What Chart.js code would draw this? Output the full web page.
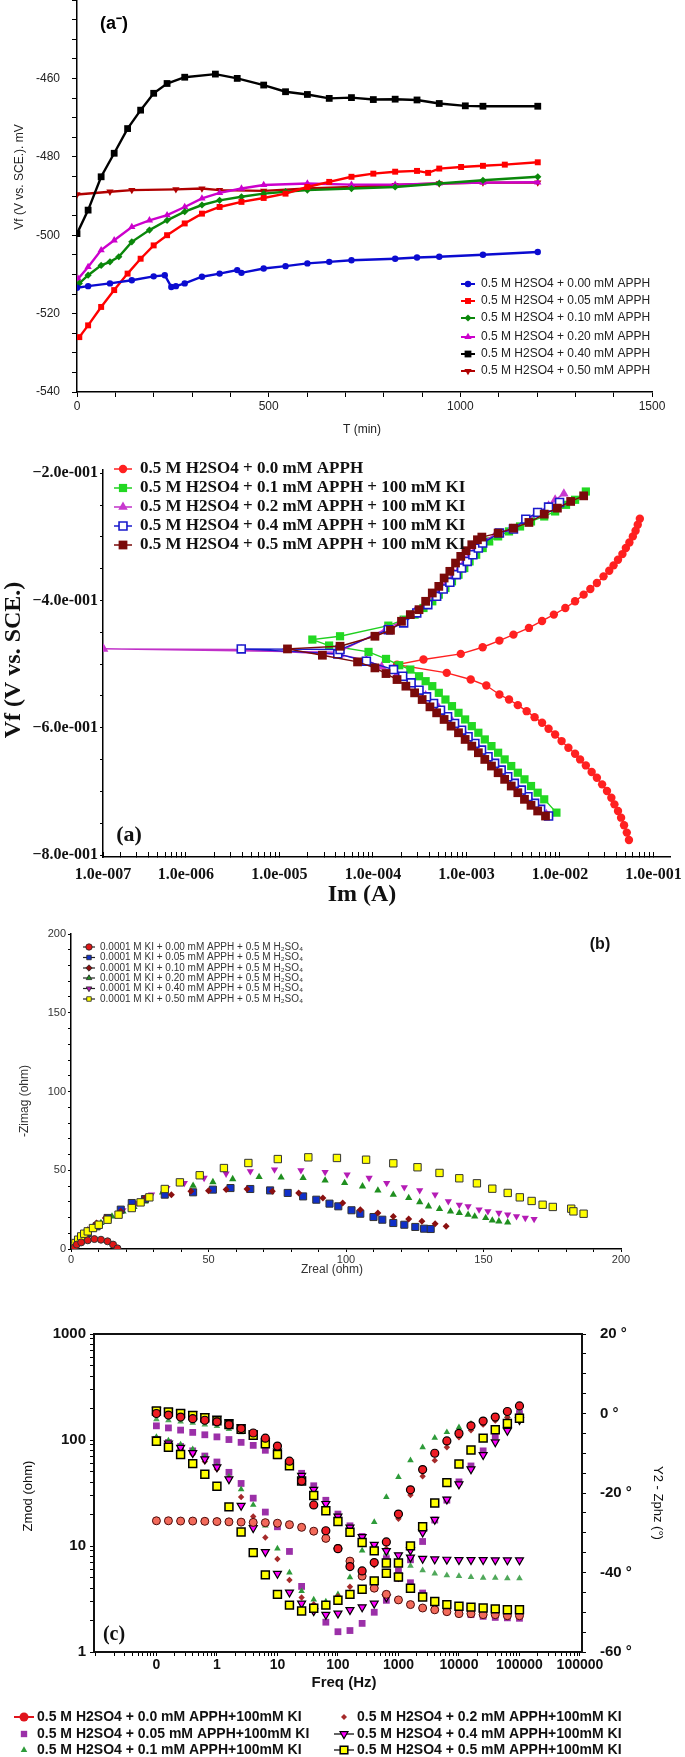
<!DOCTYPE html>
<html><head><meta charset="utf-8"><title>Corrosion figure</title>
<script src="https://cdn.jsdelivr.net/npm/chart.js@4.4.1/dist/chart.umd.min.js"></script>
<style>
html,body{margin:0;padding:0;background:#fff}
body{position:relative;width:685px;height:1757px;overflow:hidden}
canvas{position:absolute;left:0}
</style></head><body>
<canvas id="c1" width="685" height="445" style="top:0px"></canvas>
<canvas id="c2" width="685" height="475" style="top:440px"></canvas>
<canvas id="c3" width="685" height="385" style="top:905px"></canvas>
<canvas id="c4" width="685" height="457" style="top:1300px"></canvas>
<script>
// ================= DATA =================
// ---- Panel (a-) : open circuit potential vs time ----
const p1_labels = ['0.5 M H2SO4 + 0.00 mM APPH','0.5 M H2SO4 + 0.05 mM APPH','0.5 M H2SO4 + 0.10 mM APPH','0.5 M H2SO4 + 0.20 mM APPH','0.5 M H2SO4 + 0.40 mM APPH','0.5 M H2SO4 + 0.50 mM APPH'];
const p1_T_000 = [0,29,86,143,200,229,246,258,281,326,372,418,429,487,544,601,658,716,830,887,945,1059,1202];
const p1_V_000 = [-513.4,-513.0,-512.3,-511.5,-510.5,-510.2,-513.2,-513.0,-512.3,-510.6,-509.8,-508.9,-509.6,-508.5,-507.9,-507.2,-506.8,-506.4,-506.0,-505.7,-505.5,-505.0,-504.3];
const p1_T_005 = [6,29,63,97,132,166,200,235,281,326,372,429,487,544,601,658,716,773,830,887,916,945,1002,1059,1116,1202];
const p1_V_005 = [-526.0,-523.0,-518.3,-514.0,-509.8,-506.0,-502.6,-500.0,-497.0,-494.5,-492.8,-491.5,-490.5,-489.4,-487.7,-486.4,-485.1,-484.3,-483.8,-483.6,-484.1,-483.0,-482.6,-482.3,-482.0,-481.4];
const p1_T_010 = [6,29,63,86,109,143,189,235,281,326,372,429,487,544,601,716,830,945,1059,1202];
const p1_V_010 = [-512.3,-510.2,-507.7,-506.8,-505.5,-501.7,-498.7,-496.2,-494.0,-492.3,-491.1,-490.2,-489.4,-488.9,-488.5,-488.1,-487.7,-486.8,-486.0,-485.1];
const p1_T_020 = [3,29,63,97,143,189,235,281,326,372,429,487,601,716,830,945,1059,1202];
const p1_V_020 = [-511.1,-508.1,-503.8,-501.3,-497.9,-496.2,-494.9,-492.8,-490.6,-489.2,-488.1,-487.2,-486.8,-487.1,-487.1,-486.8,-486.6,-486.5];
const p1_T_040 = [0,29,63,97,132,166,200,235,281,361,418,487,544,601,658,716,773,830,887,945,1013,1059,1202];
const p1_V_040 = [-499.6,-493.6,-485.1,-479.1,-472.8,-468.1,-463.8,-461.3,-459.7,-458.9,-460.0,-461.7,-463.4,-464.1,-465.1,-464.9,-465.4,-465.3,-465.5,-466.4,-467.0,-467.1,-467.1];
const p1_T_050 = [0,86,143,258,326,372,487,601,716,830,945,1059,1202];
const p1_V_050 = [-489.6,-488.9,-488.5,-488.3,-488.1,-488.5,-488.7,-488.1,-487.7,-487.2,-486.8,-486.6,-486.6];
const p1_xTickLabels = [0,500,1000,1500];
const p1_yTickLabels = [-540,-520,-500,-480,-460];

// ---- Panel (a) : Tafel polarisation ----
const p2_labels = ['0.5 M H2SO4 + 0.0 mM APPH','0.5 M H2SO4 + 0.1 mM APPH + 100 mM KI','0.5 M H2SO4 + 0.2 mM APPH + 100 mM KI','0.5 M H2SO4 + 0.4 mM APPH + 100 mM KI','0.5 M H2SO4 + 0.5 mM APPH + 100 mM KI'];
const p2_I_00 = [7.14e-2,6.78e-2,6.43e-2,6.01e-2,5.52e-2,5.06e-2,4.65e-2,4.17e-2,3.74e-2,3.36e-2,2.92e-2,2.48e-2,2.11e-2,1.79e-2,1.45e-2,1.14e-2,8.59e-3,6.43e-3,4.65e-3,3.18e-3,2.25e-3,1.49e-3,8.69e-4,3.47e-4,1.81e-4,6.15e-4,1.11e-3,1.63e-3,2.25e-3,2.85e-3,3.54e-3,4.40e-3,5.35e-3,6.43e-3,7.55e-3,8.87e-3,1.04e-2,1.23e-2,1.45e-2,1.64e-2,1.89e-2,2.18e-2,2.48e-2,2.82e-2,3.18e-2,3.54e-2,3.82e-2,4.17e-2,4.50e-2,4.84e-2,5.18e-2,5.46e-2];
const p2_V_00 = [-0.2716,-0.2810,-0.2905,-0.2993,-0.3088,-0.3176,-0.3271,-0.3359,-0.3448,-0.3532,-0.3621,-0.3725,-0.3820,-0.3908,-0.4013,-0.4118,-0.4222,-0.4322,-0.4431,-0.4536,-0.4630,-0.4735,-0.4839,-0.4928,-0.5007,-0.5137,-0.5242,-0.5336,-0.5477,-0.5556,-0.5644,-0.5739,-0.5833,-0.5922,-0.6016,-0.6105,-0.6209,-0.6314,-0.6408,-0.6497,-0.6591,-0.6695,-0.6784,-0.6889,-0.6993,-0.7098,-0.7203,-0.7307,-0.7412,-0.7532,-0.7647,-0.7762];
const p2_I_01 = [9.16e-3,6.78e-3,5.77e-3,4.90e-3,4.17e-3,3.54e-3,3.01e-3,2.56e-3,2.18e-3,1.85e-3,1.57e-3,1.34e-3,1.14e-3,9.68e-4,8.22e-4,7.00e-4,5.96e-4,5.06e-4,4.31e-4,3.66e-4,3.11e-4,2.51e-4,1.91e-4,1.38e-4,8.97e-5,3.40e-5,2.25e-5,4.45e-5,1.46e-4,2.13e-4,2.79e-4,3.47e-4,4.31e-4,5.06e-4,5.96e-4,7.00e-4,8.22e-4,9.48e-4,1.08e-3,1.27e-3,1.49e-3,1.75e-3,2.18e-3,2.85e-3,3.74e-3,4.90e-3,6.78e-3,8.87e-3,1.16e-2,1.45e-2,1.89e-2];
const p2_V_01 = [-0.7333,-0.7124,-0.7020,-0.6915,-0.6810,-0.6706,-0.6601,-0.6497,-0.6392,-0.6288,-0.6183,-0.6078,-0.5974,-0.5869,-0.5765,-0.5660,-0.5556,-0.5451,-0.5346,-0.5268,-0.5190,-0.5085,-0.5017,-0.4918,-0.4808,-0.4708,-0.4614,-0.4562,-0.4395,-0.4301,-0.4222,-0.4118,-0.4013,-0.3908,-0.3804,-0.3699,-0.3595,-0.3490,-0.3386,-0.3281,-0.3176,-0.3072,-0.2993,-0.2915,-0.2837,-0.2758,-0.2680,-0.2601,-0.2497,-0.2418,-0.2288];
const p2_I_02 = [7.14e-3,4.90e-3,3.54e-3,2.56e-3,1.85e-3,1.34e-3,9.68e-4,7.00e-4,5.06e-4,3.66e-4,2.65e-4,1.81e-4,1.24e-4,8.51e-5,4.45e-5,3.91e-6,1.32e-7,4.21e-5,1.38e-4,2.02e-4,2.79e-4,3.66e-4,4.54e-4,5.35e-4,6.28e-4,7.40e-4,8.51e-4,9.68e-4,1.11e-3,1.27e-3,1.45e-3,2.07e-3,3.01e-3,4.40e-3,5.77e-3,7.55e-3,8.87e-3,1.10e-2];
const p2_V_02 = [-0.7360,-0.7150,-0.6941,-0.6732,-0.6523,-0.6314,-0.6105,-0.5895,-0.5686,-0.5493,-0.5320,-0.5163,-0.5043,-0.4939,-0.4850,-0.4771,-0.4761,-0.4813,-0.4447,-0.4327,-0.4180,-0.4039,-0.3908,-0.3804,-0.3699,-0.3584,-0.3480,-0.3375,-0.3271,-0.3176,-0.3088,-0.2952,-0.2878,-0.2742,-0.2627,-0.2512,-0.2418,-0.2324];
const p2_I_04 = [7.55e-3,6.21e-3,5.35e-3,4.54e-3,3.86e-3,3.25e-3,2.76e-3,2.35e-3,2.00e-3,1.70e-3,1.45e-3,1.23e-3,1.04e-3,8.87e-4,7.46e-4,6.28e-4,5.28e-4,4.45e-4,3.74e-4,3.11e-4,2.56e-4,2.08e-4,1.66e-4,8.51e-5,4.21e-5,3.91e-6,4.45e-5,1.46e-4,2.13e-4,2.94e-4,3.86e-4,4.80e-4,5.64e-4,6.64e-4,7.80e-4,8.87e-4,1.02e-3,1.17e-3,1.34e-3,1.49e-3,2.25e-3,3.18e-3,4.31e-3,5.77e-3,7.55e-3,9.89e-3];
const p2_V_04 = [-0.7386,-0.7281,-0.7187,-0.7082,-0.6978,-0.6873,-0.6769,-0.6664,-0.6559,-0.6455,-0.6350,-0.6246,-0.6141,-0.6037,-0.5932,-0.5827,-0.5723,-0.5618,-0.5514,-0.5409,-0.5294,-0.5190,-0.5085,-0.4954,-0.4839,-0.4761,-0.4771,-0.4458,-0.4353,-0.4196,-0.4065,-0.3935,-0.3820,-0.3715,-0.3595,-0.3490,-0.3386,-0.3281,-0.3176,-0.3098,-0.2941,-0.2878,-0.2722,-0.2617,-0.2533,-0.2460];
const p2_I_05 = [7.00e-3,5.77e-3,4.90e-3,4.17e-3,3.54e-3,3.01e-3,2.56e-3,2.18e-3,1.85e-3,1.57e-3,1.34e-3,1.14e-3,9.68e-4,8.22e-4,6.85e-4,5.77e-4,4.80e-4,4.07e-4,3.36e-4,2.79e-4,2.25e-4,1.81e-4,1.38e-4,1.05e-4,6.85e-5,2.88e-5,1.22e-5,4.45e-5,1.05e-4,1.54e-4,2.02e-4,2.51e-4,3.11e-4,3.66e-4,4.31e-4,5.06e-4,5.77e-4,6.64e-4,7.64e-4,8.69e-4,9.89e-4,1.14e-3,1.31e-3,1.46e-3,2.18e-3,3.18e-3,4.65e-3,6.78e-3,9.38e-3,1.30e-2,1.79e-2];
const p2_V_05 = [-0.7386,-0.7307,-0.7218,-0.7124,-0.7020,-0.6915,-0.6810,-0.6706,-0.6601,-0.6497,-0.6392,-0.6288,-0.6183,-0.6078,-0.5974,-0.5869,-0.5765,-0.5671,-0.5556,-0.5451,-0.5346,-0.5242,-0.5148,-0.5059,-0.4965,-0.4860,-0.4761,-0.4719,-0.4562,-0.4468,-0.4327,-0.4222,-0.4144,-0.4013,-0.3882,-0.3778,-0.3647,-0.3542,-0.3412,-0.3307,-0.3218,-0.3124,-0.3046,-0.3004,-0.2941,-0.2863,-0.2774,-0.2643,-0.2549,-0.2444,-0.2356];
const p2_xTickLabels = ['1.0e-007','1.0e-006','1.0e-005','1.0e-004','1.0e-003','1.0e-002','1.0e-001'];
const p2_yTickLabels = ['\u22128.0e-001','\u22126.0e-001','\u22124.0e-001','\u22122.0e-001'];

// ---- Panel (b) : Nyquist ----
const p3_labels = ['0.0001 M KI + 0.00 mM APPH + 0.5 M H\u2082SO\u2084','0.0001 M KI + 0.05 mM APPH + 0.5 M H\u2082SO\u2084','0.0001 M KI + 0.10 mM APPH + 0.5 M H\u2082SO\u2084','0.0001 M KI + 0.20 mM APPH + 0.5 M H\u2082SO\u2084','0.0001 M KI + 0.40 mM APPH + 0.5 M H\u2082SO\u2084','0.0001 M KI + 0.50 mM APPH + 0.5 M H\u2082SO\u2084'];
const p3_re_000 = [1.3,2.1,3.7,6.1,8.5,10.9,13.3,15.3,16.9];
const p3_im_000 = [1.0,2.8,4.2,5.5,6.3,5.9,4.9,2.8,0.4];
const p3_re_005 = [1.3,3.7,6.1,9.3,13.3,18.1,22.1,26.9,34.1,44.4,51.6,58.0,65.2,72.4,78.8,84.4,89.2,94.0,97.2,102.0,105.2,110.0,113.2,117.2,121.2,125.2,128.4,130.8];
const p3_im_005 = [1.7,5.9,10.2,14.4,19.7,25.0,29.2,31.7,34.5,36.0,37.7,38.7,38.1,37.2,35.6,33.4,31.3,28.8,27.1,24.6,22.4,20.3,18.6,16.5,15.4,14.0,12.9,12.7];
const p3_re_010 = [1.3,3.7,6.1,9.3,12.5,18.1,26.9,36.5,43.6,50.0,56.4,64.0,73.2,82.8,91.6,98.8,105.2,111.6,117.2,122.8,127.6,132.4,136.4];
const p3_im_010 = [2.1,8.0,12.3,16.5,19.7,23.9,32.4,34.5,36.6,37.0,37.7,38.1,36.6,35.6,32.4,29.2,25.0,22.9,20.7,19.0,17.6,16.1,14.4];
const p3_re_020 = [2.1,4.5,7.7,10.9,14.9,18.9,22.9,26.9,33.3,44.4,51.6,58.8,68.4,76.4,84.4,92.4,99.5,106.0,111.6,117.2,122.8,126.8,130.0,134.0,138.0,141.2,144.4,146.8,150.8,153.2,155.6,158.8];
const p3_im_020 = [3.8,8.0,12.3,16.5,20.7,23.9,26.7,30.3,36.0,40.2,42.5,44.4,45.7,45.5,45.1,43.6,41.9,39.8,37.2,34.5,32.4,29.8,27.1,25.4,23.9,22.9,21.8,20.7,19.7,18.2,17.6,16.9];
const p3_re_040 = [2.9,6.1,10.1,14.1,18.9,23.7,29.3,34.9,41.2,48.4,56.4,65.2,74.0,83.6,92.4,100.4,108.4,114.8,121.2,126.8,132.4,137.2,141.2,144.4,148.4,151.6,155.6,158.8,162.0,165.2,168.4];
const p3_im_040 = [4.9,9.7,14.8,19.7,24.6,29.2,34.5,38.7,41.9,45.1,47.8,49.3,50.4,49.9,48.9,47.2,45.1,41.9,39.2,37.2,34.5,30.3,28.1,27.1,25.0,23.9,22.9,21.8,20.7,19.7,19.0];
const p3_re_050 = [1.0,1.6,2.6,3.7,4.8,6.1,8.0,10.1,13.3,17.3,22.1,25.3,28.5,34.1,39.6,46.8,55.6,64.5,75.2,86.3,96.7,107.3,117.2,126.0,134.0,141.2,147.6,153.2,158.8,163.2,167.5,171.5,175.2,181.9,182.7,186.4];
const p3_im_050 = [1.7,3.8,5.9,8.0,9.7,11.2,13.3,15.4,18.6,21.8,26.0,29.6,32.8,38.1,42.3,46.8,51.4,54.6,57.1,58.2,57.8,56.7,54.4,51.9,48.3,44.9,41.7,38.3,35.6,32.8,30.5,28.1,26.7,25.6,23.9,22.4];
const p3_tickLabels = [0,50,100,150,200];

// ---- Panel (c) : Bode ----
const p4_labels = ['0.5 M H2SO4 + 0.0 mM APPH+100mM KI','0.5 M H2SO4 + 0.05 mM APPH+100mM KI','0.5 M H2SO4 + 0.1 mM APPH+100mM KI','0.5 M H2SO4 + 0.2 mM APPH+100mM KI','0.5 M H2SO4 + 0.4 mM APPH+100mM KI','0.5 M H2SO4 + 0.5 mM APPH+100mM KI'];
const p4_freq = [0.1,0.158,0.251,0.398,0.631,1,1.58,2.51,3.98,6.31,10,15.8,25.1,39.8,63.1,100,158,251,398,631,1000,1580,2510,3980,6310,10000,15800,25100,39800,63100,100000];
const p4_zmod_00 = [17.3,17.3,17.2,17.2,17.1,17.0,16.9,16.8,16.7,16.6,16.4,15.9,15.0,13.8,11.8,9.5,7.2,5.2,4.0,3.5,3.1,2.8,2.6,2.5,2.4,2.3,2.3,2.25,2.25,2.2,2.2];
const p4_zmod_005 = [136,130,124,118,112,107,101,95,89,80,71,59,48.5,37,27,20,15.5,12.3,9.8,7.6,5.8,4.5,3.6,3.0,2.6,2.4,2.25,2.17,2.12,2.1,2.08];
const p4_zmod_01 = [157,153,149,145,140,135,127,118,106,92,78,60,45,33,24,18.5,14.5,11.8,10.0,8.6,7.3,6.5,5.9,5.5,5.3,5.2,5.1,5.0,5.0,4.95,4.95];
const p4_zmod_04 = [190,186,181,175,168,160,148,133,116,97,78,61,46,34,25,19,15,12.2,10.3,9.0,8.2,7.8,7.6,7.5,7.45,7.4,7.4,7.4,7.35,7.35,7.35];
const p4_zmod_05 = [188,184,178,170,162,152,140,126,111,92,73,57,41,30,21.5,17.0,13.5,10.8,9.0,6.9,5.1,4.0,3.3,3.0,2.8,2.7,2.65,2.6,2.55,2.5,2.5];
const p4_phase_00 = [0.0,-0.4,-0.9,-1.3,-1.7,-2.1,-2.8,-3.8,-4.9,-6.2,-8.2,-12.0,-17.0,-23.0,-29.5,-34.0,-38.5,-39.6,-37.5,-32.3,-25.3,-19.2,-14.1,-10.0,-6.9,-5.0,-3.1,-1.9,-0.9,0.5,1.9];
const p4_phase_005 = [-6.5,-7.3,-8.3,-9.4,-10.7,-12.2,-14.8,-17.6,-21.3,-24.8,-28.5,-34.7,-43.5,-49.0,-52.5,-54.9,-54.6,-52.8,-50.0,-47.0,-41.5,-36.8,-32.2,-26.8,-21.8,-17.2,-13.2,-9.4,-5.6,-2.6,0.0];
const p4_phase_01 = [-5.9,-6.8,-7.8,-9.0,-11.0,-13.3,-15.9,-19.1,-23.0,-28.2,-34.0,-40.0,-44.7,-46.8,-47.3,-45.5,-41.2,-34.5,-27.3,-21.0,-16.0,-11.8,-8.5,-6.1,-4.7,-3.5,-2.6,-1.8,-1.2,-0.6,-0.2];
const p4_phase_02 = [-6.9,-7.8,-8.9,-10.3,-12.1,-14.0,-16.4,-21.0,-25.9,-31.2,-36.6,-41.9,-46.3,-48.0,-48.0,-46.0,-43.6,-40.6,-38.2,-34.0,-26.5,-20.5,-15.8,-11.8,-8.5,-6.0,-4.2,-2.8,-1.8,-1.0,-0.5];
const p4_phase_04 = [-6.5,-7.5,-8.6,-9.9,-11.5,-13.5,-16.5,-23.2,-28.8,-34.8,-40.3,-45.0,-47.8,-49.7,-50.6,-50.3,-49.4,-48.7,-47.8,-46.2,-41.0,-34.4,-29.9,-26.7,-21.6,-17.8,-14.0,-10.4,-7.2,-4.3,-1.6];
const p4_phase_05 = [-7.0,-8.5,-10.3,-12.6,-15.3,-18.3,-23.5,-29.8,-35.0,-40.6,-45.5,-48.2,-49.7,-49.0,-48.2,-47.0,-45.5,-44.2,-42.1,-40.2,-37.6,-33.3,-28.5,-22.5,-17.4,-12.7,-9.2,-6.2,-4.1,-2.5,-1.2];
const p4_xTickLabels = {'-1':'0','0':'1','1':'10','2':'100','3':'1000','4':'10000','5':'100000','6':'100000'};
const p4_yTickLabels = [1,10,100,1000];
const p4_y2TickLabels = [-60,-40,-20,0,20];

// ================= HELPERS =================
const FS = "'Liberation Sans', Arial, Helvetica, sans-serif";
const FR = "'Liberation Serif', 'Times New Roman', serif";
const xy = (xs, ys) => xs.map((x, i) => ({x: x, y: ys[i]}));
const setTicks = vals => s => { s.ticks = vals.map(v => ({value: v})); };
function range(a, b, step) { const r = []; const n = Math.round((b - a) / step); for (let i = 0; i <= n; i++) r.push(Math.round((a + i * step) * 1e6) / 1e6); return r; }
function logTicks(lo, hi) { const r = []; for (let k = -9; k <= 7; k++) for (let m = 1; m <= 9; m++) { const v = m * Math.pow(10, k); if (v >= lo * 0.9999 && v <= hi * 1.0001) r.push(v); } return r; }
function isDecade(v) { const l = Math.log10(v); return Math.abs(l - Math.round(l)) < 1e-6; }

function axis(o) {
  return {
    type: o.type || 'linear', position: o.position, min: o.min, max: o.max,
    afterFit: s => { o.fit(s); s.paddingTop = 0; s.paddingBottom = 0; s.paddingLeft = 0; s.paddingRight = 0; },
    afterBuildTicks: setTicks(o.ticks),
    border: {display: true, color: '#000', width: o.bw || 1.5},
    grid: {display: true, drawOnChartArea: false, drawTicks: true, tickLength: o.tl || 4, color: '#000', lineWidth: 1},
    ticks: {autoSkip: false, maxRotation: 0, minRotation: 0, padding: o.pad, color: o.color || '#222', font: o.font, callback: o.cb}
  };
}

function drawMarker(ctx, style, x, y, r, rot, stroke) {
  ctx.beginPath();
  if (style === 'circle') ctx.arc(x, y, r, 0, Math.PI * 2);
  else if (style === 'rect') { const s = r * Math.SQRT1_2; ctx.rect(x - s, y - s, 2 * s, 2 * s); }
  else if (style === 'rectRot') { ctx.moveTo(x, y - r); ctx.lineTo(x + r, y); ctx.lineTo(x, y + r); ctx.lineTo(x - r, y); ctx.closePath(); }
  else if (style === 'triangle') {
    let a = (rot || 0) * Math.PI / 180;
    for (let i = 0; i < 3; i++) { const px = x + Math.sin(a) * r, py = y - Math.cos(a) * r; if (i) ctx.lineTo(px, py); else ctx.moveTo(px, py); a += 2 * Math.PI / 3; }
    ctx.closePath();
  }
  ctx.fill();
  if (stroke) ctx.stroke();
}

function legendPlugin(cfg) {
  return { id: 'customLegend', afterDraw(chart) {
    const ctx = chart.ctx; ctx.save();
    ctx.font = cfg.font; ctx.textBaseline = 'middle'; ctx.textAlign = 'left';
    cfg.items.forEach(it => {
      const ds = chart.data.datasets[it.ds];
      if (it.line) { ctx.strokeStyle = it.lineColor || ds.borderColor; ctx.lineWidth = it.lineWidth || 1.5; ctx.beginPath(); ctx.moveTo(it.line[0], it.y); ctx.lineTo(it.line[1], it.y); ctx.stroke(); }
      ctx.fillStyle = it.fill || ds.pointBackgroundColor;
      ctx.strokeStyle = it.stroke || ds.pointBorderColor;
      const bw = it.bw != null ? it.bw : (ds.pointBorderWidth || 0);
      ctx.lineWidth = bw;
      drawMarker(ctx, it.style || ds.pointStyle, it.x, it.y, it.r || ds.pointRadius, it.rot != null ? it.rot : (ds.pointRotation || 0), bw > 0);
      ctx.fillStyle = cfg.color;
      ctx.fillText(it.text || ds.label, it.tx, it.y + (cfg.dy || 0));
    });
    ctx.restore();
  }};
}

function textPlugin(items) {
  return { id: 'extraText', afterDraw(chart) {
    const ctx = chart.ctx;
    items.forEach(t => {
      ctx.save(); ctx.font = t.font; ctx.fillStyle = t.color || '#000';
      ctx.textAlign = t.align || 'center'; ctx.textBaseline = 'middle';
      ctx.translate(t.x, t.y); if (t.rot) ctx.rotate(t.rot);
      ctx.fillText(t.text, 0, 0); ctx.restore();
    });
  }};
}

const baseOpts = (pad) => ({
  responsive: false, animation: false, devicePixelRatio: 1,
  layout: {padding: pad, autoPadding: false},
  plugins: {legend: {display: false}, tooltip: {enabled: false}}
});

// ================= PANEL 1 =================
const p1_T = [p1_T_000, p1_T_005, p1_T_010, p1_T_020, p1_T_040, p1_T_050];
const p1_V = [p1_V_000, p1_V_005, p1_V_010, p1_V_020, p1_V_040, p1_V_050];
const p1_colors = ['#0B0BD0', '#FF0000', '#0A870A', '#CC00CC', '#000000', '#B00000'];
const p1_marks = [['circle', 3.2, 0], ['rect', 4.2, 0], ['rectRot', 3.6, 0], ['triangle', 4.2, 0], ['rect', 4.8, 0], ['triangle', 4.2, 180]];
const p1_ds = p1_labels.map((lab, i) => ({
  label: lab, data: xy(p1_T[i], p1_V[i]), showLine: true,
  borderColor: p1_colors[i], backgroundColor: p1_colors[i], borderWidth: 2.4,
  pointStyle: p1_marks[i][0], pointRadius: p1_marks[i][1], pointRotation: p1_marks[i][2],
  pointBackgroundColor: p1_colors[i], pointBorderColor: p1_colors[i], pointBorderWidth: 0
}));
const o1 = baseOpts({left: 0, right: 33, top: 0, bottom: 0});
o1.scales = {
  x: axis({min: 0, max: 1500, fit: s => { s.height = 53; }, ticks: range(0, 1500, 100), tl: 5, pad: 2,
    font: {size: 12, family: FS}, color: '#222', cb: v => (p1_xTickLabels.includes(Math.round(v)) ? String(Math.round(v)) : '')}),
  y: axis({min: -540, max: -440, fit: s => { s.width = 77; }, ticks: range(-540, -440, 5), tl: 5, pad: 12,
    font: {size: 12, family: FS}, color: '#222', cb: v => (p1_yTickLabels.includes(Math.round(v)) ? String(Math.round(v)) : '')})
};
const p1_rows = [284, 301, 318, 337, 354, 371];
new Chart(document.getElementById('c1'), {
  type: 'scatter', data: {datasets: p1_ds}, options: o1,
  plugins: [
    legendPlugin({font: `12px ${FS}`, color: '#222', items: p1_rows.map((y, i) => ({ds: i, x: 468, y: y, tx: 481, line: [461, 475], lineWidth: 2}))}),
    textPlugin([
      {text: 'Vf (V vs. SCE.). mV', x: 20, y: 177, rot: -Math.PI / 2, font: `12px ${FS}`, color: '#222'},
      {text: 'T (min)', x: 362, y: 430, font: `12px ${FS}`, color: '#222'},
      {text: '(a\u207B)', x: 114, y: 24, font: `bold 18px ${FS}`, color: '#000'}
    ])
  ]
});

// ================= PANEL 2 =================
const P2_XMIN = 1.3e-7, P2_XMAX = 0.15;
const p2_I = [p2_I_00, p2_I_01, p2_I_02, p2_I_04, p2_I_05];
const p2_V = [p2_V_00, p2_V_01, p2_V_02, p2_V_04, p2_V_05];
const p2_line = ['#FF2020', '#20D020', '#C030C8', '#1A1ACC', '#7A0A0A'];
const p2_fill = ['#FF2020', '#22D822', '#C838CF', '#FFFFFF', '#7A0A0A'];
const p2_marks = [['circle', 4.2, 0, 0], ['rect', 5.8, 0, 0], ['triangle', 5.5, 0, 0], ['rect', 5.6, 0, 1.6], ['rect', 6.2, 0, 0]];
const p2_ds = p2_labels.map((lab, i) => ({
  label: lab, data: xy(p2_I[i], p2_V[i]), showLine: true,
  borderColor: p2_line[i], backgroundColor: p2_fill[i], borderWidth: 1.4,
  pointStyle: p2_marks[i][0], pointRadius: p2_marks[i][1], pointRotation: p2_marks[i][2],
  pointBackgroundColor: p2_fill[i], pointBorderColor: p2_line[i], pointBorderWidth: p2_marks[i][3]
}));
const p2_order = [4, 3, 2, 1, 0];
p2_ds.forEach((d, i) => { d.order = p2_order[i]; });
const o2 = baseOpts({left: 0, right: 15, top: 30, bottom: 0});
o2.scales = {
  x: axis({type: 'logarithmic', min: P2_XMIN, max: P2_XMAX, fit: s => { s.height = 58; },
    ticks: [P2_XMIN].concat(logTicks(P2_XMIN * 1.01, P2_XMAX)), tl: -5, pad: 13,
    font: {size: 16, weight: 'bold', family: FR}, color: '#111',
    cb: v => { if (Math.abs(v - P2_XMIN) < 1e-12) return p2_xTickLabels[0]; if (!isDecade(v)) return ''; const k = Math.round(Math.log10(v)); return p2_xTickLabels[k + 7] || ''; }}),
  y: axis({min: -0.803, max: -0.195, fit: s => { s.width = 103; }, ticks: range(-0.8, -0.2, 0.05), tl: 3, pad: 2,
    font: {size: 16, weight: 'bold', family: FR}, color: '#111',
    cb: v => { const k = Math.round(v * 20); return (k % 4 === 0) ? p2_yTickLabels[(k + 16) / 4] : ''; }})
};
const p2_rows = [29, 48, 67, 86, 105];
new Chart(document.getElementById('c2'), {
  type: 'scatter', data: {datasets: p2_ds}, options: o2,
  plugins: [
    legendPlugin({font: `bold 17px ${FR}`, color: '#111', items: p2_rows.map((y, i) => ({ds: i, x: 123, y: y, tx: 140, line: [114, 132], lineWidth: 1.5}))}),
    textPlugin([
      {text: 'Vf (V vs. SCE.)', x: 14, y: 220, rot: -Math.PI / 2, font: `bold 24px ${FR}`, color: '#111'},
      {text: 'Im (A)', x: 362, y: 455, font: `bold 24px ${FR}`, color: '#111'},
      {text: '(a)', x: 129, y: 395, font: `bold 22px ${FR}`, color: '#111'}
    ])
  ]
});

// ================= PANEL 3 =================
const p3_re = [p3_re_000, p3_re_005, p3_re_010, p3_re_020, p3_re_040, p3_re_050];
const p3_im = [p3_im_000, p3_im_005, p3_im_010, p3_im_020, p3_im_040, p3_im_050];
const p3_fill = ['#E01515', '#1030C8', '#8A1010', '#1F8F1F', '#B51BB5', '#FFFF00'];
const p3_marks = [['circle', 3.5, 0], ['rect', 5, 0], ['rectRot', 3.5, 0], ['triangle', 4.2, 0], ['triangle', 4.2, 180], ['rect', 5.2, 0]];
const p3_ds = p3_labels.map((lab, i) => ({
  label: lab, data: xy(p3_re[i], p3_im[i]), showLine: false,
  borderColor: '#222', backgroundColor: p3_fill[i],
  pointStyle: p3_marks[i][0], pointRadius: p3_marks[i][1], pointRotation: p3_marks[i][2],
  pointBackgroundColor: p3_fill[i], pointBorderColor: (i === 2 || i === 3 || i === 4) ? p3_fill[i] : '#333', pointBorderWidth: (i === 2 || i === 3 || i === 4) ? 0 : 1
}));
p3_ds[0].order = 0; p3_ds[1].order = 3; p3_ds[2].order = 2; p3_ds[3].order = 4; p3_ds[4].order = 5; p3_ds[5].order = 1;
const o3 = baseOpts({left: 0, right: 64, top: 29, bottom: 0});
o3.scales = {
  x: axis({min: 0, max: 200, fit: s => { s.height = 41; }, ticks: range(0, 200, 10), tl: 3, pad: 1,
    font: {size: 11, family: FS}, color: '#333', cb: v => (p3_tickLabels.includes(Math.round(v)) ? String(Math.round(v)) : '')}),
  y: axis({min: 0, max: 200, fit: s => { s.width = 71; }, ticks: range(0, 200, 10), tl: 3, pad: 2,
    font: {size: 11, family: FS}, color: '#333', cb: v => (p3_tickLabels.includes(Math.round(v)) ? String(Math.round(v)) : '')})
};
const p3_rows = [42, 52.5, 63, 73, 83.5, 94];
new Chart(document.getElementById('c3'), {
  type: 'scatter', data: {datasets: p3_ds}, options: o3,
  plugins: [
    legendPlugin({font: `10px ${FS}`, color: '#333', items: p3_rows.map((y, i) => ({ds: i, x: 89, y: y, tx: 100, line: [83, 95], lineColor: '#222', lineWidth: 1.2, r: 3.2, stroke: '#222', bw: 0.8}))}),
    textPlugin([
      {text: '-Zimag (ohm)', x: 25, y: 196, rot: -Math.PI / 2, font: `12px ${FS}`, color: '#333'},
      {text: 'Zreal (ohm)', x: 332, y: 365, font: `12px ${FS}`, color: '#333'},
      {text: '(b)', x: 600, y: 40, font: `bold 16px ${FS}`, color: '#111'}
    ])
  ]
});

// ================= PANEL 4 =================
const P4_XMIN = 0.0093, P4_XMAX = 1.08e6;
function p4set(label, ys, axisId, style, r, rot, fill, border, bw) {
  return {label: label, data: xy(p4_freq, ys), yAxisID: axisId, showLine: false,
    pointStyle: style, pointRadius: r, pointRotation: rot,
    backgroundColor: fill, borderColor: border, pointBackgroundColor: fill, pointBorderColor: border, pointBorderWidth: bw};
}
const p4_ds = [
  p4set(p4_labels[0], p4_phase_00, 'y2', 'circle', 4, 0, '#EE1C24', '#000', 1.2),
  p4set(p4_labels[5], p4_phase_05, 'y2', 'rect', 5.6, 0, '#FFFF00', '#000', 1.5),
  p4set(p4_labels[5], p4_zmod_05, 'y', 'rect', 5.6, 0, '#FFFF00', '#000', 1.5),
  p4set(p4_labels[0], p4_zmod_00, 'y', 'circle', 4, 0, '#F26A5A', '#4A0A0A', 1),
  p4set(p4_labels[4], p4_phase_04, 'y2', 'triangle', 4.6, 180, '#FF00FF', '#000', 1.2),
  p4set(p4_labels[4], p4_zmod_04, 'y', 'triangle', 4.6, 180, '#FF00FF', '#000', 1.2),
  p4set(p4_labels[3], p4_phase_02, 'y2', 'rectRot', 3.2, 0, '#A52A2A', '#A52A2A', 0),
  p4set(p4_labels[2], p4_phase_01, 'y2', 'triangle', 3.8, 0, '#2E9B3A', '#2E9B3A', 0),
  p4set(p4_labels[2], p4_zmod_01, 'y', 'triangle', 3.8, 0, '#4FA85A', '#4FA85A', 0),
  p4set(p4_labels[1], p4_phase_005, 'y2', 'rect', 4.8, 0, '#9B30A8', '#9B30A8', 0),
  p4set(p4_labels[1], p4_zmod_005, 'y', 'rect', 4.8, 0, '#9B30A8', '#9B30A8', 0)
];
const o4 = baseOpts({left: 0, right: 0, top: 34, bottom: 0});
o4.scales = {
  x: axis({type: 'logarithmic', min: P4_XMIN, max: P4_XMAX, fit: s => { s.height = 105; }, ticks: logTicks(P4_XMIN, P4_XMAX), tl: 4, pad: 1, bw: 2,
    font: {size: 14, weight: 'bold', family: FS}, color: '#111',
    cb: v => { if (!isDecade(v)) return ''; const k = Math.round(Math.log10(v)); return p4_xTickLabels[String(k)] || ''; }}),
  y: axis({type: 'logarithmic', position: 'left', min: 1, max: 1000, fit: s => { s.width = 94; }, ticks: logTicks(1, 1000), tl: 4, pad: 4, bw: 2,
    font: {size: 15, weight: 'bold', family: FS}, color: '#111',
    cb: v => (isDecade(v) && p4_yTickLabels.includes(Math.round(v)) ? String(Math.round(v)) : '')}),
  y2: axis({position: 'right', min: -60, max: 20, fit: s => { s.width = 103; }, ticks: range(-60, 20, 5), tl: 4, pad: 14, bw: 2,
    font: {size: 15, weight: 'bold', family: FS}, color: '#111',
    cb: v => (p4_y2TickLabels.includes(Math.round(v)) ? Math.round(v) + ' \u00B0' : '')})
};
const boxPlugin = {id: 'box', afterDraw(chart) {
  const a = chart.chartArea, c = chart.ctx; c.save(); c.strokeStyle = '#111'; c.lineWidth = 2;
  c.strokeRect(a.left, a.top, a.right - a.left, a.bottom - a.top); c.restore();
}};
new Chart(document.getElementById('c4'), {
  type: 'scatter', data: {datasets: p4_ds}, options: o4,
  plugins: [
    boxPlugin,
    legendPlugin({font: `bold 14px ${FS}`, color: '#111', items: [
      {ds: 0, text: p4_labels[0], x: 24, y: 417, tx: 37, line: [14, 34], lineColor: '#E0141C', lineWidth: 2, fill: '#E0141C', stroke: '#E0141C', bw: 0, r: 4.5},
      {ds: 10, text: p4_labels[1], x: 24, y: 434, tx: 37, r: 4.5},
      {ds: 7, text: p4_labels[2], x: 24, y: 450, tx: 37, r: 3.8},
      {ds: 6, text: p4_labels[3], x: 344, y: 417, tx: 357, r: 3},
      {ds: 4, text: p4_labels[4], x: 344, y: 434, tx: 357, line: [334, 354], lineColor: '#111', lineWidth: 1.3, r: 4.6},
      {ds: 1, text: p4_labels[5], x: 344, y: 450, tx: 357, line: [334, 354], lineColor: '#111', lineWidth: 1.3, r: 5.4}
    ]}),
    textPlugin([
      {text: 'Zmod (ohm)', x: 28, y: 196, rot: -Math.PI / 2, font: `13px ${FS}`, color: '#111'},
      {text: 'Y2 - Zphz (\u00B0)', x: 658, y: 203, rot: Math.PI / 2, font: `13px ${FS}`, color: '#111'},
      {text: 'Freq (Hz)', x: 344, y: 383, font: `bold 15px ${FS}`, color: '#111'},
      {text: '(c)', x: 114, y: 335, font: `bold 20px ${FR}`, color: '#111'}
    ])
  ]
});
</script>
</body></html>
